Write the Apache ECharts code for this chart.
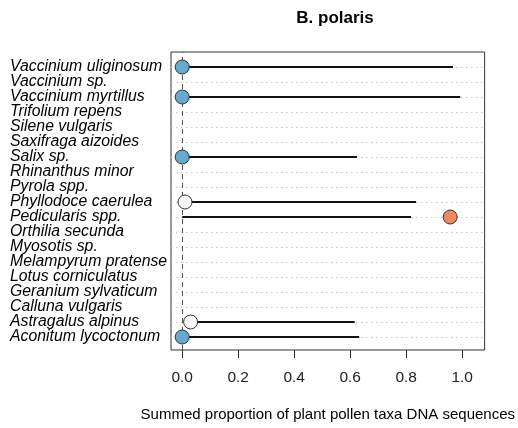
<!DOCTYPE html>
<html>
<head>
<meta charset="utf-8">
<script src="https://cdn.jsdelivr.net/npm/echarts@6/dist/echarts.min.js"></script>
<style>html,body{margin:0;padding:0;background:#fff}#c{width:518px;height:428px}</style>
</head>
<body>
<div id="c"></div>
<script>
// Taxa, listed top to bottom as in the chart
var taxa = ["Vaccinium uliginosum","Vaccinium sp.","Vaccinium myrtillus","Trifolium repens","Silene vulgaris","Saxifraga aizoides","Salix sp.","Rhinanthus minor","Pyrola spp.","Phyllodoce caerulea","Pedicularis spp.","Orthilia secunda","Myosotis sp.","Melampyrum pratense","Lotus corniculatus","Geranium sylvaticum","Calluna vulgaris","Astragalus alpinus","Aconitum lycoctonum"];
// Horizontal segment start / end (null = no segment)
var lineStart = [0, null, 0, null, null, null, 0, null, null, 0.01, 0, null, null, null, null, null, null, 0.03, 0];
var lineEnd   = [0.967, null, 0.993, null, null, null, 0.624, null, null, 0.835, 0.817, null, null, null, null, null, null, 0.616, 0.632];
// Point position (null = no point) and point group
var pointValue = [0, null, 0, null, null, null, 0, null, null, 0.01, 0.957, null, null, null, null, null, null, 0.03, 0];
var pointGroup = ["blue", null, "blue", null, null, null, "blue", null, null, "white", "orange", null, null, null, null, null, null, "white", "blue"];
var xTicks = [0, 0.2, 0.4, 0.6, 0.8, 1.0];
var groupColors = {blue: "#67a9cf", white: "#f7f7f7", orange: "#ef8a62"};

var n = taxa.length;
function rowY(i){ return n - i; }
var yVals = taxa.map(function(_, i){ return rowY(i); });
var yOdd = yVals.filter(function(v){ return v % 2 === 1; });
var yEven = yVals.filter(function(v){ return v % 2 === 0; });

var segData = [];
var ptData = [];
for (var i = 0; i < n; i++) {
  if (lineEnd[i] !== null) segData.push([lineStart[i], lineEnd[i], rowY(i)]);
  if (pointValue[i] !== null) ptData.push({value: [pointValue[i], rowY(i)], itemStyle: {color: groupColors[pointGroup[i]]}});
}

var FONT = "'Liberation Sans', Arial, sans-serif";
function makeYAxis(vals) {
  return {
    type: 'value', min: 20 - 298 / 15, max: 20, position: 'left', offset: 0,
    axisLine: {show: false},
    axisTick: {show: false},
    axisLabel: {customValues: vals, fontFamily: FONT, fontStyle: 'italic', fontSize: 15.8, color: '#000',
      align: 'left', margin: 161, showMinLabel: true, showMaxLabel: true, hideOverlap: false,
      formatter: function(v){ return taxa[n - Math.round(v)]; }},
    splitLine: {show: false}
  };
}
var chart = echarts.init(document.getElementById('c'), null, {renderer: 'canvas'});
chart.setOption({
  animation: false,
  backgroundColor: '#fff',
  title: {
    text: 'B. polaris', left: 330, top: 5, textAlign: 'center',
    textStyle: {fontFamily: FONT, fontWeight: 'bold', fontSize: 17, color: '#000'}
  },
  grid: {left: 171, right: 27, top: 52, bottom: 78, show: true, borderColor: '#333', borderWidth: 1, backgroundColor: 'transparent'},
  xAxis: {
    type: 'value', min: -0.04, max: 1.08,
    name: 'Summed proportion of plant pollen taxa DNA sequences',
    nameLocation: 'middle', nameGap: 57,
    nameTextStyle: {fontFamily: FONT, fontSize: 15, color: '#000'},
    axisLine: {show: false},
    axisTick: {show: true, customValues: xTicks, length: 8, lineStyle: {color: '#333'}},
    axisLabel: {customValues: xTicks, fontFamily: FONT, fontSize: 15.5, color: '#222', margin: 20,
      showMinLabel: true, showMaxLabel: true, hideOverlap: false,
      formatter: function(v){ return v.toFixed(1); }},
    splitLine: {show: false}
  },
  yAxis: [makeYAxis(yOdd), makeYAxis(yEven)],
  series: [
    {
      type: 'scatter', data: [], silent: true, z: 1, yAxisIndex: 0,
      markLine: {
        silent: true, symbol: 'none', label: {show: false}, z: 1,
        data: yVals.map(function(y){ return {yAxis: y, lineStyle: {color: '#c8c8c8', type: [1.5, 3.5], width: 1}}; })
          .concat([{xAxis: 0, lineStyle: {color: '#555', type: [5, 4], width: 1}}])
      }
    },
    {
      type: 'custom', data: segData, silent: true, z: 10, yAxisIndex: 0,
      renderItem: function(params, api){
        var a = api.coord([api.value(0), api.value(2)]);
        var b = api.coord([api.value(1), api.value(2)]);
        return {type: 'line', z2: 10, shape: {x1: a[0], y1: Math.round(a[1]), x2: b[0], y2: Math.round(b[1])}, style: {stroke: '#111', lineWidth: 2}};
      },
      encode: {x: [0, 1], y: 2}
    },
    {
      type: 'scatter', data: ptData, symbol: 'circle', symbolSize: 14, z: 20, yAxisIndex: 0,
      itemStyle: {borderColor: '#333', borderWidth: 1, opacity: 1}
    }
  ]
});
</script>
</body>
</html>
